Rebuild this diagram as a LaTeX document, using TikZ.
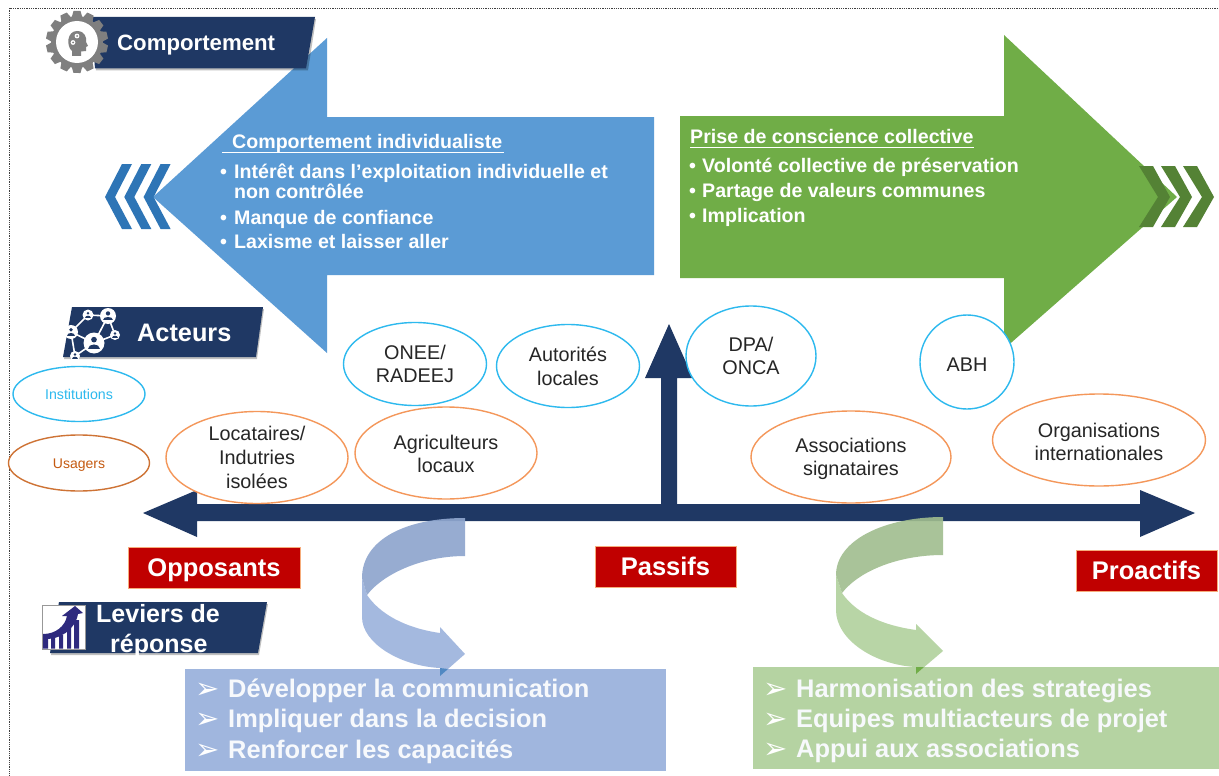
\documentclass[tikz,border=0pt]{standalone}
\usepackage{fontspec}
\setmainfont{Liberation Sans}
\newfontfamily\dejavu{DejaVu Sans}
\usetikzlibrary{shapes.geometric}
\definecolor{navy}{HTML}{1F3864}
\definecolor{bluearrow}{HTML}{5B9BD5}
\definecolor{bluechev}{HTML}{2E75B6}
\definecolor{greenarrow}{HTML}{70AD47}
\definecolor{greenchev}{HTML}{548235}
\definecolor{redbox}{HTML}{C00000}
\definecolor{ringblue}{HTML}{2DB9EE}
\definecolor{ringorange}{HTML}{F4975A}
\definecolor{usagers}{HTML}{C55A11}
\definecolor{listblue}{HTML}{A0B6DE}
\definecolor{listgreen}{HTML}{B5D3A2}
\definecolor{upblue}{HTML}{8FA6CE}
\definecolor{upgreen}{HTML}{A0BD8E}
\definecolor{purplebar}{HTML}{2E2A7E}
\definecolor{gearg}{HTML}{7F7F7F}
\newcommand{\fs}[1]{\fontsize{#1}{#1}\selectfont}
\newcommand{\personicon}[3]{%
  \fill[white] (#1,#2) circle (#3);
  \fill[navy] (#1,#2-#3*.32) circle (#3*.27);
  \fill[navy] (#1-#3*.58,#2+#3*.55) .. controls (#1-#3*.58,#2) and (#1+#3*.58,#2) .. (#1+#3*.58,#2+#3*.55) -- cycle;}
\tikzset{
  x=1pt,y=-1pt,
  band/.style={fill=navy},
  bandshadow/.style={fill=black,fill opacity=.25},
  redlabel/.style={draw=ringorange!80!white,line width=.7pt,fill=redbox,text=white,font=\bfseries\fs{25.5},inner sep=0pt,text height=18pt,text depth=0pt},
  oval/.style={ellipse,fill=white,line width=1.4pt,inner sep=0pt,align=center,text=black!85,font=\fs{19.8}},
  ovalblue/.style={oval,draw=ringblue},
  ovalorange/.style={oval,draw=ringorange},
  whitetext/.style={anchor=base west,text=white,font=\bfseries\fs{19.6},inner sep=0pt},
  headtext/.style={anchor=base west,text=white,font=\bfseries\fs{22.2},inner sep=0pt},
  listtext/.style={anchor=base west,text=white!92!listblue,font=\bfseries\fs{25.4},inner sep=0pt},
  listmark/.style={anchor=base west,text=white,font=\dejavu\fs{29},inner sep=0pt},
}
\begin{document}
\begin{tikzpicture}
\useasboundingbox (0,0) rectangle (1219,776);
\fill[white] (0,0) rectangle (1219,776);
\draw[black!75,line width=.8pt,dash pattern=on .9pt off .9pt] (1218,8.5) -- (9.5,8.5) -- (9.5,776);

% large arrows
\fill[bluearrow] (153,197) -- (327,38) -- (327,117) -- (654,117) -- (654,275) -- (327,275) -- (327,353) -- cycle;
\fill[greenarrow] (680,116) -- (1004,116) -- (1004,35) -- (1177,197) -- (1004,349) -- (1004,278) -- (680,278) -- cycle;
% chevrons
\foreach \d in {0,19.3,38.6}{
  \fill[bluechev] (105+\d,197) -- (122+\d,164) -- (132+\d,164) -- (115+\d,197) -- (132+\d,229) -- (122+\d,229) -- cycle;
}
\foreach \d in {0,22,44}{
  \fill[greenchev] (1171+\d-1,197) -- (1153+\d,166) -- (1139+\d,166) -- (1158+\d,197) -- (1139+\d,227) -- (1153+\d,227) -- cycle;
}

% text in arrows
\node[whitetext] (t1) at (232,148) {Comportement individualiste};
\draw[white,line width=1pt] (222,152.5) -- (504,152.5);
\node[whitetext] (b1) at (220,178) {•};
\node[whitetext] (l1) at (234,178) {Intérêt dans l’exploitation individuelle et};
\node[whitetext] (l1b) at (234,198) {non contrôlée};
\node[whitetext] (b2) at (220,224) {•};
\node[whitetext] (l2) at (234,224) {Manque de confiance};
\node[whitetext] (b3) at (220,248) {•};
\node[whitetext] (l3) at (234,248) {Laxisme et laisser aller};

\node[whitetext] (t2) at (690,143) {Prise de conscience collective};
\draw[white,line width=1pt] (690,147.5) -- (974,147.5);
\node[whitetext] (g1b) at (689,172.5) {•};
\node[whitetext] (g1) at (702,172.5) {Volonté collective de préservation};
\node[whitetext] (g2b) at (689,197) {•};
\node[whitetext] (g2) at (702,197) {Partage de valeurs communes};
\node[whitetext] (g3b) at (689,222) {•};
\node[whitetext] (g3) at (702,222) {Implication};

% axis
\fill[navy] (143,513) -- (197,490) -- (197,504) -- (661,504) -- (661,378) -- (645,378) -- (669,324) -- (693,378) -- (677,378) -- (677,504) -- (1140,504) -- (1140,490) -- (1195,513) -- (1140,537) -- (1140,521) -- (197,521) -- (197,537) -- cycle;

% ovals
\node[oval,draw=ringblue,minimum width=132pt,minimum height=55pt,text=ringblue,font=\fs{14.2}] (inst) at (79,394) {Institutions};
\node[oval,draw=usagers!85!white,minimum width=141pt,minimum height=56pt,text=usagers,font=\fs{14}] (usag) at (79,463) {\rule{0pt}{14pt}Usagers};
\node[ovalorange,minimum width=182pt,minimum height=92pt] (loc) at (257,457.5) {Locataires/\\[4pt]Indutries\\[4pt]isolées};
\node[ovalorange,minimum width=182pt,minimum height=92pt] (agr) at (446,453) {\rule{0pt}{16pt}Agriculteurs\\[4pt]locaux};
\node[ovalblue,minimum width=143pt,minimum height=83pt] (onee) at (415,364) {ONEE/\\[4pt]RADEEJ};
\node[ovalblue,minimum width=143pt,minimum height=83pt] (auto) at (568,366) {Autorités\\[4pt]locales};
\node[ovalblue,minimum width=130pt,minimum height=100pt] (dpa) at (751,356) {DPA/\\[4pt]ONCA};
\node[ovalblue,minimum width=94pt,minimum height=94pt] (abh) at (967,362) {\rule{0pt}{18pt}ABH};
\node[ovalorange,minimum width=200pt,minimum height=92pt] (asso) at (851,457) {\rule{0pt}{18pt}Associations\\[4pt]signataires};
\node[ovalorange,minimum width=213pt,minimum height=92pt] (orga) at (1099,440) {\rule{0pt}{18pt}Organisations\\[4pt]internationales};

% red labels
\node[redlabel,minimum width=172pt,minimum height=41pt] (opp) at (214,567.5) {Opposants};
\node[redlabel,minimum width=141pt,minimum height=41pt] (pas) at (665.5,566.5) {Passifs};
\node[redlabel,minimum width=141pt,minimum height=41pt] (pro) at (1146.5,570.5) {Proactifs};

% list boxes
\fill[listblue] (185,669) rectangle (666,771);
\fill[listgreen] (753,667) rectangle (1219,769);

% curved arrows
\fill[listblue,fill opacity=.95] (362,578) -- (362,617) .. controls (362,643) and (400,666) .. (440,668) -- (440,676) -- (465,654) -- (440,627) -- (440,633) .. controls (405,628) and (380,614) .. (367,595) -- cycle;
\fill[upblue,fill opacity=.92] (465,518) .. controls (405,518) and (362,540) .. (362,578) -- (367,595) .. controls (385,572) and (425,556) .. (465,556) -- cycle;
\fill[listgreen,fill opacity=.95] (836,575) -- (836,610) .. controls (836,640) and (875,665) .. (916,667) -- (916,674) -- (943,651) -- (916,624) -- (916,630) .. controls (880,625) and (855,612) .. (842,593) -- cycle;
\fill[upgreen,fill opacity=.9] (943,517) .. controls (885,517) and (836,540) .. (836,575) -- (842,593) .. controls (860,570) and (900,555) .. (943,555) -- cycle;
\fill[bluechev!70!listblue] (440,668) -- (440,676) -- (448,669) -- cycle;
\fill[greenarrow] (916,667) -- (916,674) -- (924,667) -- cycle;

% list text
\node[listmark] (m1) at (195,698) {➢};
\node[listtext] (d1) at (228,697) {Développer la communication};
\node[listmark] (m2) at (195,728) {➢};
\node[listtext] (d2) at (228,727) {Impliquer dans la decision};
\node[listmark] (m3) at (195,759) {➢};
\node[listtext] (d3) at (228,758) {Renforcer les capacités};
\node[listmark] (n1) at (763,698) {➢};
\node[listtext] (h1) at (796,697) {Harmonisation des strategies};
\node[listmark] (n2) at (763,728) {➢};
\node[listtext] (h2) at (796,727) {Equipes multiacteurs de projet};
\node[listmark] (n3) at (763,758) {➢};
\node[listtext] (h3) at (796,757) {Appui aux associations};

% Comportement band
\fill[bandshadow] (92,19) -- (316,19) -- (308,70.5) -- (96,70.5) -- cycle;
\fill[band] (91,17) -- (315,17) -- (306,68.5) -- (95,68.5) -- cycle;
\node[headtext] (hc) at (117,51) {Comportement};
\foreach \a in {0,25.71,...,340}{
  \fill[gearg,rotate around={\a:(77,42)}] (71.5,18) -- (73.5,11) -- (80.5,11) -- (82.5,18) -- cycle;
}
\fill[gearg] (77,42) circle (26);
\fill[white] (77,42) circle (21);
\fill[gearg] (72,56) -- (72,51) .. controls (66,46) and (67,31) .. (77,31) .. controls (85,31) and (87,38) .. (86,42) -- (88,46) -- (86,47) -- (86,51) -- (81,51.5) -- (81,56) -- cycle;
\fill[white] (77,36) circle (2.4);
\fill[white] (73,42.5) circle (2.4);
\fill[gearg] (77,36) circle (1);
\fill[gearg] (73,42.5) circle (1);

% Acteurs band
\fill[bandshadow] (73,309) -- (264,309) -- (257,359) -- (64,359) -- cycle;
\fill[band] (72,307) -- (263,307) -- (256,357) -- (63,357) -- cycle;
\node[headtext,font=\bfseries\fs{25.3}] (ha) at (137,341) {Acteurs};
\draw[white,line width=1.6pt] (88,315) -- (108,316) -- (94,343) -- (71,332) -- (88,315)
  (108,316) -- (115,335) -- (94,343) -- (75,356) -- (71,332);
\personicon{88}{315}{5.5}
\personicon{108}{316}{8}
\personicon{71}{332}{7}
\personicon{115}{335}{5}
\personicon{94}{343}{10.5}
\personicon{75}{356}{5}

% Leviers band
\fill[bandshadow] (60,604) -- (268,604) -- (259,655) -- (51,655) -- cycle;
\fill[band] (59,602) -- (267,602) -- (258,653) -- (50,653) -- cycle;
\node[headtext,font=\bfseries\fs{25}] (hl1) at (96,622) {Leviers de};
\node[headtext,font=\bfseries\fs{25}] (hl2) at (110,652) {réponse};
\fill[white] (42,605) rectangle (85,649);
\fill[purplebar] (43,637) rectangle (48,648.5) (51,637) rectangle (55,648.5) (59,635) rectangle (63,648.5) (67,628) rectangle (71,648.5) (74,620) rectangle (79,648.5);
\fill[purplebar] (43,634) .. controls (56,634) and (65,626) .. (67,616) -- (62,616) -- (75,606) -- (83,613) -- (78,614) .. controls (75,630) and (60,640) .. (43,639) -- cycle;
\draw[gearg!80,line width=.8pt] (42,605) rectangle (85,649);
\end{tikzpicture}
\end{document}
